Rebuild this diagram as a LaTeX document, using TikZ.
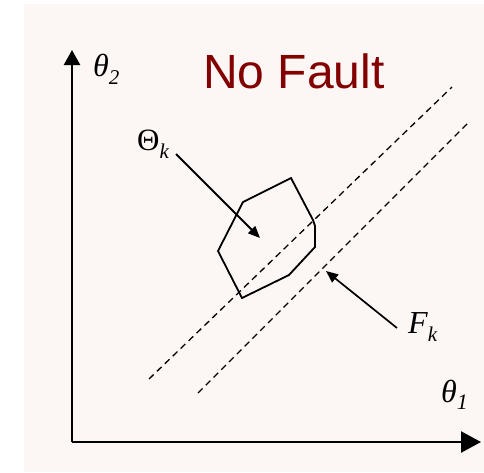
\documentclass[tikz,border=0pt]{standalone}
\usepackage{fontspec}
\setmainfont{Liberation Serif}
\newfontfamily\arialfont{Liberation Sans}
\usetikzlibrary{arrows.meta}
\definecolor{bgpink}{HTML}{FCF7F5}
\definecolor{faultred}{HTML}{820000}
\tikzset{
  axisline/.style={line width=2.4pt},
  regionline/.style={line width=1.8pt, line join=miter},
  boundline/.style={line width=1.3pt, dash pattern=on 6.5pt off 4.5pt},
  pointer/.style={line width=2pt, -{Triangle[length=12pt,width=10pt]}},
  lbl/.style={inner sep=0pt, anchor=base west},
}
\begin{document}
\begin{tikzpicture}[x=1pt,y=-1pt]
\useasboundingbox (0,0) rectangle (484,472);
\fill[bgpink] (24,4) rectangle (484,472);
% axes
\coordinate (O) at (72,442);
\coordinate (ytip) at (72,50);
\coordinate (xtip) at (481,442);
\draw[axisline, -{Triangle[length=15pt,width=16pt]}] (O) -- (ytip);
\draw[axisline, -{Triangle[length=20pt,width=21pt]}] (O) -- (xtip);
% labels
\node[lbl] (t2) at (93,76) {\fontsize{32}{32}\selectfont\itshape θ\raisebox{-8pt}{\fontsize{21}{21}\selectfont 2}};
\node[lbl] (t1) at (441,402) {\fontsize{32}{32}\selectfont\itshape θ\raisebox{-7pt}{\fontsize{22}{22}\selectfont 1}};
\node[lbl, text=faultred] (title) at (203,88) {\arialfont\fontsize{48}{48}\selectfont No Fault};
\node[lbl] (Th) at (137,150) {\fontsize{31}{31}\selectfont Θ\raisebox{-8pt}{\fontsize{21}{21}\selectfont\itshape k}};
\node[lbl] (Fk) at (408,333) {\fontsize{32}{32}\selectfont\itshape F\raisebox{-8pt}{\fontsize{21}{21}\selectfont k}};
% region polygon
\draw[regionline] (243,202) -- (291,178) -- (313,220) -- (315,226) -- (315,247)
  -- (289,275) -- (242,298) -- (218,251) -- cycle;
% boundary lines
\coordinate (a1) at (149,379);
\coordinate (a2) at (452,87);
\coordinate (b1) at (198,393);
\coordinate (b2) at (469,122);
\draw[boundline] (a1) -- (a2);
\draw[boundline] (b1) -- (b2);
% pointers
\coordinate (thtip) at (260,238);
\coordinate (fktip) at (326,271);
\draw[pointer] (176,154) -- (thtip);
\draw[pointer, line width=1.7pt] (397,328) -- (fktip);
\end{tikzpicture}
\end{document}
